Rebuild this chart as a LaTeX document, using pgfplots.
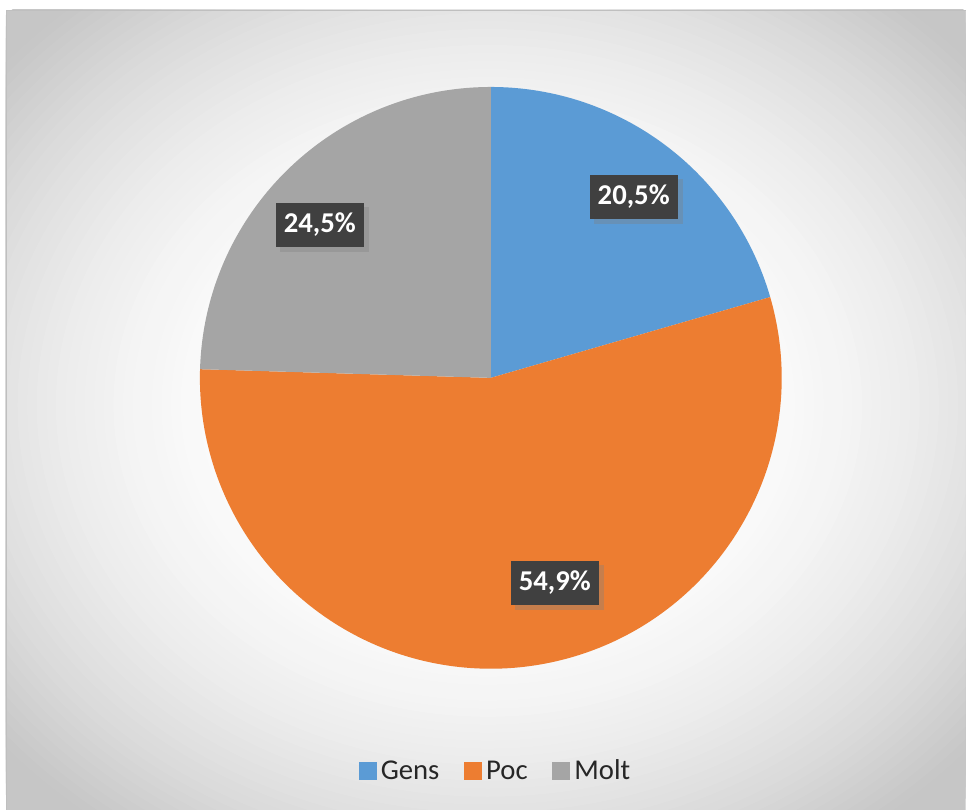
\documentclass[border=0pt]{standalone}
\usepackage{pgfplots}
\pgfplotsset{compat=1.18}
\usepackage{pgfplotstable}
\usepackage{fontspec}
\setmainfont{Carlito}
\usetikzlibrary{shadows}

\definecolor{cgens}{HTML}{5B9BD5}
\definecolor{cpoc}{HTML}{ED7D31}
\definecolor{cmolt}{HTML}{A5A5A5}
\definecolor{bgout}{HTML}{C6C6C6}
\definecolor{lblbox}{HTML}{404040}

% shares (per cent)
\pgfplotstableread{
label value
Gens  20.5
Poc   54.9
Molt  24.5
}\piedata

\begin{document}
\begin{tikzpicture}
  % page canvas, 1px = 0.03cm
  \fill[white] (0,0) rectangle (28.98,24.3);
  % chart area with a soft grey radial fade
  \begin{scope}
    \clip (0.18,0) rectangle (28.98,24.0);
    \fill[bgout] (0.18,0) rectangle (28.98,24.0);
    \foreach \t in {1.40,1.38,...,0.28}{
      \pgfmathsetmacro\p{min(100,95*(\t-0.3)^2)}
      \pgfmathsetmacro\rx{14.4*\t}
      \pgfmathsetmacro\ry{12*\t}
      \fill[bgout!\p!white] (14.64,12.15) ellipse [x radius=\rx cm, y radius=\ry cm];
    }
  \end{scope}
  \draw[black!25, line width=0.7pt] (0.18,0) -- (0.18,24.0) -- (28.98,24.0);

  \pgfplotstablegetelem{0}{value}\of\piedata \let\vA\pgfplotsretval
  \pgfplotstablegetelem{1}{value}\of\piedata \let\vB\pgfplotsretval
  \pgfplotstablegetelem{2}{value}\of\piedata \let\vC\pgfplotsretval
  \pgfmathsetmacro\total{\vA+\vB+\vC}
  \pgfmathsetmacro\aA{90}
  \pgfmathsetmacro\aB{\aA-360*(\vA/\total)}
  \pgfmathsetmacro\aC{\aB-360*(\vB/\total)}
  \pgfmathsetmacro\aD{\aC-360*(\vC/\total)}
  \def\R{8.73cm}
  \begin{axis}[
    at={(0,0)}, anchor=south west,
    x=0.03cm, y=0.03cm,
    xmin=0, xmax=966, ymin=0, ymax=810,
    hide axis, clip=false,
    legend columns=3,
    legend style={at={(0.5145,0.048)}, anchor=center, draw=none, fill=none,
      font=\fontsize{24.5}{29}\selectfont, text=black!85,
      /tikz/every even column/.append style={column sep=17pt},
      nodes={inner sep=4pt}},
  ]
    % slices
    \fill[cgens] (axis cs:491,432) -- ++(\aA:\R) arc[start angle=\aA, end angle=\aB, radius=\R] -- cycle;
    \fill[cpoc]  (axis cs:491,432) -- ++(\aB:\R) arc[start angle=\aB, end angle=\aC, radius=\R] -- cycle;
    \fill[cmolt] (axis cs:491,432) -- ++(\aC:\R) arc[start angle=\aC, end angle=\aD, radius=\R] -- cycle;

    % data labels
    \tikzset{lbl/.style={fill=lblbox, text=white, inner xsep=7pt, minimum height=38pt,
      font=\bfseries\fontsize{24.5}{29}\selectfont,
      drop shadow={shadow xshift=4pt, shadow yshift=-4pt, opacity=0.35}}}
    \node[lbl] at (axis cs:634,613) {20,5\%};
    \node[lbl] at (axis cs:555,227) {54,9\%};
    \node[lbl] at (axis cs:320,585) {24,5\%};

    \addlegendimage{legend image code/.code={\fill[cgens] (0cm,-0.255cm) rectangle (0.51cm,0.255cm);}}
    \addlegendentry{Gens}
    \addlegendimage{legend image code/.code={\fill[cpoc] (0cm,-0.255cm) rectangle (0.51cm,0.255cm);}}
    \addlegendentry{Poc}
    \addlegendimage{legend image code/.code={\fill[cmolt] (0cm,-0.255cm) rectangle (0.51cm,0.255cm);}}
    \addlegendentry{Molt}
  \end{axis}
\end{tikzpicture}
\end{document}
